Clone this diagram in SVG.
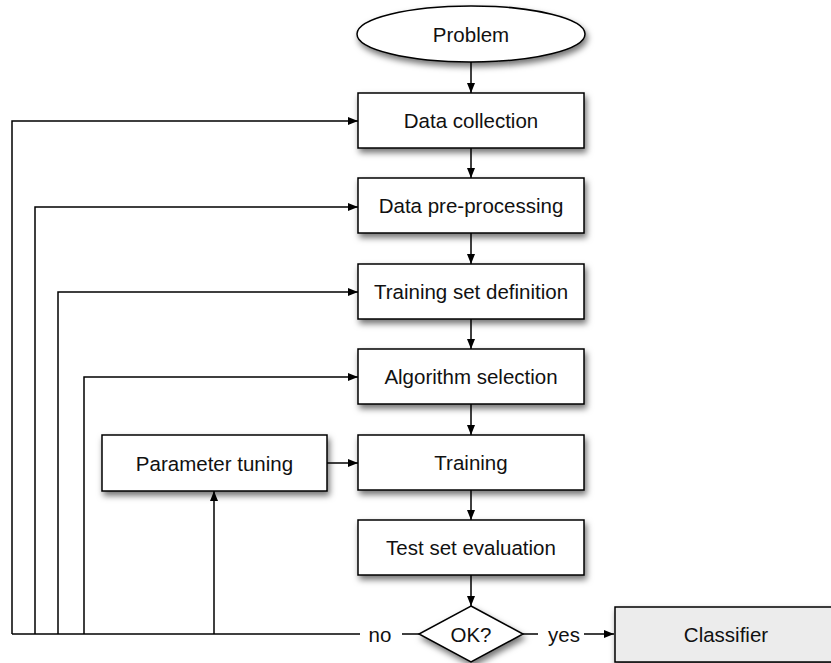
<svg xmlns="http://www.w3.org/2000/svg" width="831" height="663" viewBox="0 0 831 663">
  <defs>
    <filter id="shadow" x="-20%" y="-30%" width="140%" height="170%">
      <feDropShadow dx="2" dy="4" stdDeviation="3" flood-color="#000" flood-opacity="0.55"/>
    </filter>
    <marker id="arrow" viewBox="0 0 10 8" refX="10" refY="4" markerWidth="10" markerHeight="8" markerUnits="userSpaceOnUse" orient="auto">
      <path d="M0,0 L10,4 L0,8 Z" fill="#000"/>
    </marker>
  </defs>
  <style>
    .box { fill: #fff; stroke: #000; stroke-width: 1.5; filter: url(#shadow); }
    .final { fill: #ececec; }
    .lbl { font-family: "Liberation Sans", Arial, sans-serif; font-size: 20.5px; fill: #111; text-anchor: middle; dominant-baseline: central; }
    .line { fill: none; stroke: #000; stroke-width: 1.5; }
    .arr { marker-end: url(#arrow); }
  </style>

  <rect width="831" height="663" fill="#fff"/>

  <!-- connectors -->
  <g id="connectors">
    <!-- main flow -->
    <path class="line arr" d="M471,62 V93"/>
    <path class="line arr" d="M471,148 V178"/>
    <path class="line arr" d="M471,233 V264"/>
    <path class="line arr" d="M471,319 V349"/>
    <path class="line arr" d="M471,404 V435"/>
    <path class="line arr" d="M471,490 V520"/>
    <path class="line arr" d="M471,575 V606"/>
    <path class="line arr" d="M327,463 H358"/>
    <!-- "no" branch feeding back -->
    <path class="line" d="M12,634 H360"/>
    <path class="line" d="M402,634 H419"/>
    <path class="line arr" d="M12,634 V121 H358"/>
    <path class="line arr" d="M35,634 V207 H358"/>
    <path class="line arr" d="M58,634 V292 H358"/>
    <path class="line arr" d="M84,634 V377 H358"/>
    <path class="line arr" d="M214,634 V491"/>
    <!-- "yes" branch -->
    <path class="line" d="M523,634 H538"/>
    <path class="line arr" d="M584,634 H614"/>
    <text class="lbl" x="380" y="634">no</text>
    <text class="lbl" x="564" y="634">yes</text>
  </g>

  <g id="problem">
    <ellipse class="box" cx="471" cy="34" rx="114" ry="28"/>
    <text class="lbl" x="471" y="34">Problem</text>
  </g>
  <g id="data-collection">
    <rect class="box" x="358" y="93" width="226" height="55"/>
    <text class="lbl" x="471" y="120.5">Data collection</text>
  </g>
  <g id="data-preprocessing">
    <rect class="box" x="358" y="178" width="226" height="55"/>
    <text class="lbl" x="471" y="205.5">Data pre-processing</text>
  </g>
  <g id="training-set-definition">
    <rect class="box" x="358" y="264" width="226" height="55"/>
    <text class="lbl" x="471" y="291.5">Training set definition</text>
  </g>
  <g id="algorithm-selection">
    <rect class="box" x="358" y="349" width="226" height="55"/>
    <text class="lbl" x="471" y="376.5">Algorithm selection</text>
  </g>
  <g id="parameter-tuning">
    <rect class="box" x="102" y="435" width="225" height="56"/>
    <text class="lbl" x="214.5" y="463">Parameter tuning</text>
  </g>
  <g id="training">
    <rect class="box" x="358" y="435" width="226" height="55"/>
    <text class="lbl" x="471" y="462.5">Training</text>
  </g>
  <g id="test-set-evaluation">
    <rect class="box" x="358" y="520" width="226" height="55"/>
    <text class="lbl" x="471" y="547.5">Test set evaluation</text>
  </g>
  <g id="ok-decision">
    <polygon class="box" points="471,606 523,634 471,662 419,634"/>
    <text class="lbl" x="471" y="634">OK?</text>
  </g>
  <g id="classifier">
    <rect class="box final" x="615" y="607" width="230" height="55"/>
    <text class="lbl" x="726" y="634">Classifier</text>
  </g>
</svg>
